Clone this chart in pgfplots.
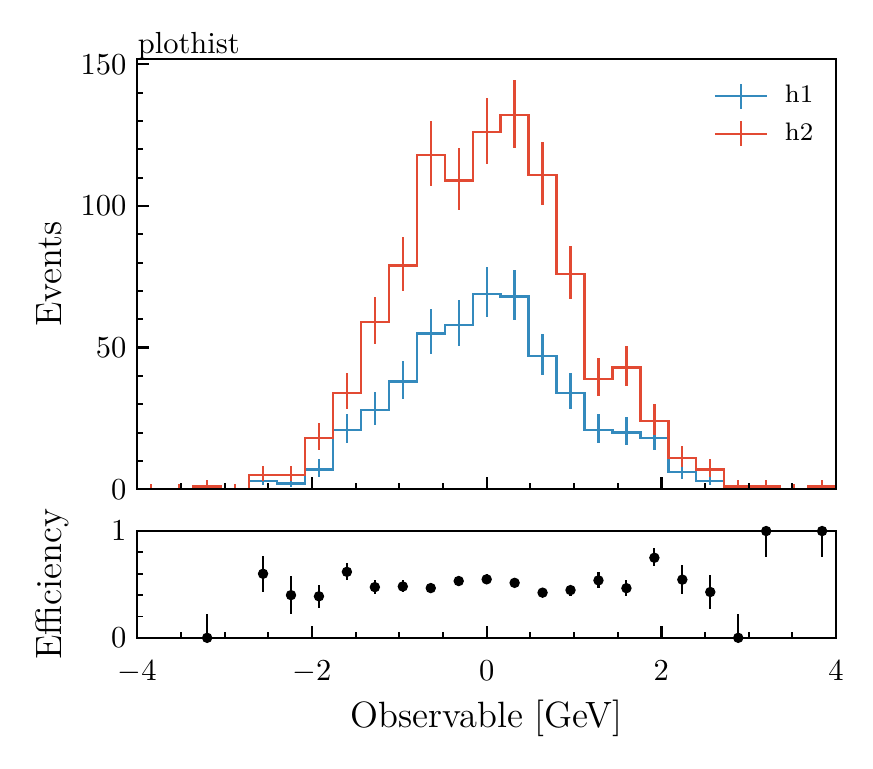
\documentclass[border=0pt]{standalone}
\usepackage{pgfplots}
\pgfplotsset{compat=1.18}
\usepackage{pgfplotstable}
\definecolor{hone}{HTML}{348ABD}
\definecolor{htwo}{HTML}{E24A33}

% step data: left bin edges, last point repeated at right edge
\pgfplotstableread{
x y
-4.00 0
-3.68 0
-3.36 0
-3.04 0
-2.72 3
-2.40 2
-2.08 7
-1.76 21
-1.44 28
-1.12 38
-0.80 55
-0.48 58
-0.16 69
0.16 68
0.48 47
0.80 34
1.12 21
1.44 20
1.76 18
2.08 6
2.40 3
2.72 0
3.04 1
3.36 0
3.68 1
4.00 1
}\honestep
\pgfplotstableread{
x y
-4.00 0
-3.68 0
-3.36 1
-3.04 0
-2.72 5
-2.40 5
-2.08 18
-1.76 34
-1.44 59
-1.12 79
-0.80 118
-0.48 109
-0.16 126
0.16 132
0.48 111
0.80 76
1.12 39
1.44 43
1.76 24
2.08 11
2.40 7
2.72 1
3.04 1
3.36 0
3.68 1
4.00 1
}\htwostep
% bin centres, counts, Poisson errors (minus, plus)
\pgfplotstableread{
x y em ep
-3.84 0 0 1.841
-3.52 0 0 1.841
-3.20 0 0 1.841
-2.88 0 0 1.841
-2.56 3 1.633 2.918
-2.24 2 1.292 2.638
-1.92 7 2.575 3.770
-1.60 21 4.545 5.655
-1.28 28 5.261 6.362
-0.96 38 6.137 7.232
-0.64 55 7.390 8.475
-0.32 58 7.589 8.672
0.00 69 8.275 9.354
0.32 68 8.215 9.295
0.64 47 6.832 7.921
0.96 34 5.802 6.900
1.28 21 4.545 5.655
1.60 20 4.434 5.546
1.92 18 4.202 5.321
2.24 6 2.377 3.583
2.56 3 1.633 2.918
2.88 0 0 1.841
3.20 1 0.827 2.300
3.52 0 0 1.841
3.84 1 0.827 2.300
}\honeerr
\pgfplotstableread{
x y em ep
-3.84 0 0 1.841
-3.52 0 0 1.841
-3.20 1 0.827 2.300
-2.88 0 0 1.841
-2.56 5 2.158 3.382
-2.24 5 2.158 3.382
-1.92 18 4.202 5.321
-1.60 34 5.802 6.900
-1.28 59 7.654 8.737
-0.96 79 8.854 9.928
-0.64 118 10.83 11.90
-0.32 109 10.41 11.47
0.00 126 11.19 12.25
0.32 132 11.45 12.51
0.64 111 10.50 11.57
0.96 76 8.684 9.760
1.28 39 6.218 7.313
1.60 43 6.532 7.625
1.92 24 4.864 5.971
2.24 11 3.265 4.434
2.56 7 2.575 3.770
2.88 1 0.827 2.300
3.20 1 0.827 2.300
3.52 0 0 1.841
3.84 1 0.827 2.300
}\htwoerr
\pgfplotstableread{
x y em ep
-3.20 0 0 0.224
-2.56 0.600 0.171 0.171
-2.24 0.400 0.173 0.180
-1.92 0.389 0.106 0.105
-1.60 0.618 0.077 0.084
-1.28 0.475 0.062 0.068
-0.96 0.481 0.053 0.059
-0.64 0.466 0.041 0.046
-0.32 0.532 0.044 0.049
0.00 0.548 0.043 0.050
0.32 0.515 0.041 0.037
0.64 0.423 0.040 0.038
0.96 0.447 0.053 0.040
1.28 0.538 0.071 0.078
1.60 0.465 0.072 0.077
1.92 0.750 0.081 0.087
2.24 0.545 0.136 0.134
2.56 0.429 0.156 0.160
2.88 0 0 0.224
3.20 1 0.240 0
3.84 1 0.240 0
}\eff

\begin{document}
\begin{tikzpicture}
\pgfplotsset{
  myaxis/.style={
    scale only axis,
    anchor=south west,
    width=229.1pt,
    xmin=-4, xmax=4,
    axis on top,
    xtick pos=bottom, ytick pos=left,
    tick align=inside,
    xtick={-4,-2,0,2,4},
    minor x tick num=3,
    major tick length=4pt,
    minor tick length=2pt,
    major tick style={line width=0.75pt, black},
    minor tick style={line width=0.6pt, black},
    axis line style={line width=0.75pt},
    tick label style={font=\fontsize{10}{12}\selectfont},
    label style={font=\fontsize{12}{14}\selectfont},
    ylabel style={at={(axis description cs:-0.108,0.5)}, anchor=base},
  },
}
\begin{axis}[myaxis,
  name=top,
  at={(45.0pt,91.4pt)},
  height=141.0pt,
  ymin=0, ymax=151.8,
  ytick={0,50,100,150},
  minor y tick num=4,
  xticklabels={},
  ylabel={Events},
  legend style={at={(axis description cs:0.824,0.955)}, anchor=north west,
    draw=none, fill=none, inner sep=0pt,
    font=\fontsize{8.3}{10}\selectfont,
    row sep=1.0pt},
  legend cell align=left,
]
\addplot[hone, line width=0.75pt, const plot,
  legend image code/.code={
    \draw[hone, line width=0.75pt] (0pt,0pt) -- (17pt,0pt);
    \draw[hone, line width=0.75pt] (8.5pt,-4.1pt) -- (8.5pt,4.1pt);
    \path (20.6pt,0pt);}]
  table[x=x, y=y] {\honestep};
\addlegendentry{h1}
\addplot[draw=none, mark=none, forget plot,
  error bars/.cd, x dir=both, x fixed=0.16, y dir=both, y explicit,
  error mark=none, error bar style={draw=hone, line width=0.75pt}]
  table[x=x, y=y, y error minus=em, y error plus=ep] {\honeerr};
\addplot[htwo, line width=0.75pt, const plot,
  legend image code/.code={
    \draw[htwo, line width=0.75pt] (0pt,0pt) -- (17pt,0pt);
    \draw[htwo, line width=0.75pt] (8.5pt,-4.1pt) -- (8.5pt,4.1pt);
    \path (20.6pt,0pt);}]
  table[x=x, y=y] {\htwostep};
\addlegendentry{h2}
\addplot[draw=none, mark=none, forget plot,
  error bars/.cd, x dir=both, x fixed=0.16, y dir=both, y explicit,
  error mark=none, error bar style={draw=htwo, line width=0.75pt}]
  table[x=x, y=y, y error minus=em, y error plus=ep] {\htwoerr};
\end{axis}
\node[anchor=base west, inner sep=0pt, font=\fontsize{10}{12}\selectfont]
  at ([yshift=2pt]top.north west) {plothist};
\begin{axis}[myaxis,
  at={(45.0pt,42.7pt)},
  height=35.0pt,
  ymin=0, ymax=1,
  ytick={0,1},
  minor y tick num=4,
  xticklabel style={yshift=-4pt},
  xlabel={Observable [GeV]},
  xlabel style={at={(axis description cs:0.5,-0.837)}, anchor=base},
  ylabel={Efficiency},
]
\addplot[black, only marks, mark=*, mark size=1.5pt,
  error bars/.cd, y dir=both, y explicit,
  error mark=none, error bar style={black, line width=0.7pt}]
  table[x=x, y=y, y error minus=em, y error plus=ep] {\eff};
\end{axis}
\pgfresetboundingbox
\useasboundingbox (0,0) rectangle (286.2pt,251.8pt);
\end{tikzpicture}
\end{document}
